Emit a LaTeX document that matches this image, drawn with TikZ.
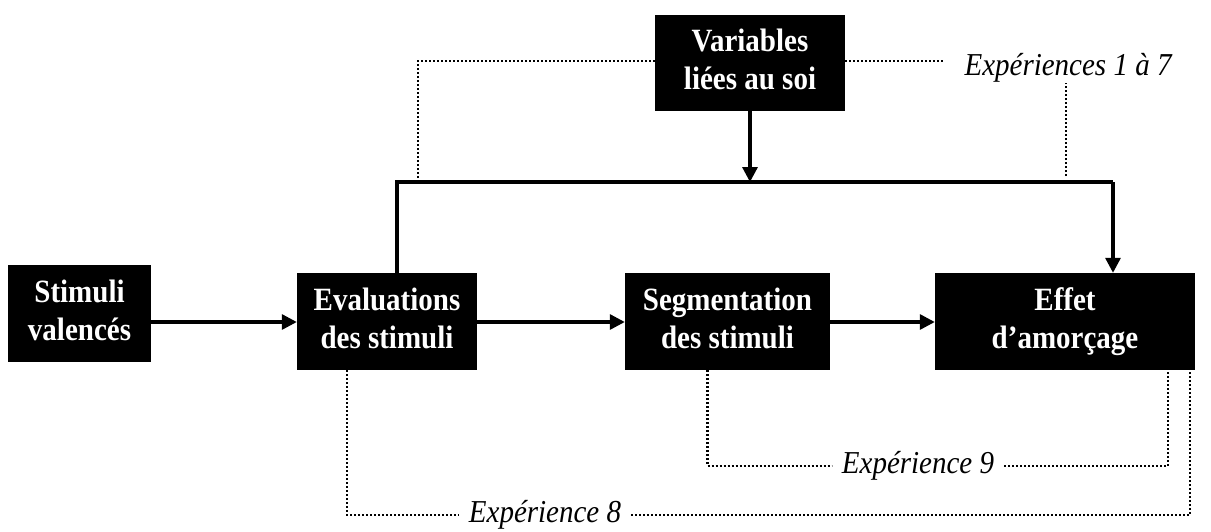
\documentclass[tikz,border=0pt]{standalone}
\usepackage{fontspec}
\usepackage{graphicx}
\setmainfont{Liberation Serif}
\usetikzlibrary{arrows.meta}
\newcommand{\boxtxt}[2]{\scalebox{1}[1.12]{\begin{tabular}{@{}c@{}}#1\\#2\end{tabular}}}
\newcommand{\lbltxt}[1]{\scalebox{1}[1.1]{#1}}
\tikzset{
  box/.style={draw=none, fill=black, text=white, font=\fontsize{29}{34}\selectfont\bfseries, align=center, inner sep=0pt},
  lbl/.style={font=\fontsize{29}{32}\selectfont\itshape, inner ysep=6pt, inner xsep=10pt},
  dotline/.style={line width=2.2pt, dash pattern=on 2pt off 2pt},
  arr/.style={line width=3.2pt, -{Triangle[length=15pt,width=15pt]}},
  bar/.style={line width=4.8pt}
}
\begin{document}
\begin{tikzpicture}[x=1pt,y=-1pt]
\useasboundingbox (0,0) rectangle (1211,531);
\node[box, minimum width=143pt, minimum height=97pt] (stim) at (79.5,313.5) {\boxtxt{Stimuli}{valencés}};
\node[box, minimum width=180pt, minimum height=97pt] (eval) at (387,321.5) {\boxtxt{Evaluations}{des stimuli}};
\node[box, minimum width=205pt, minimum height=97pt] (seg) at (727.5,321.5) {\boxtxt{Segmentation}{des stimuli}};
\node[box, minimum width=260pt, minimum height=97pt] (eff) at (1065,321.5) {\boxtxt{Effet}{d’amorçage}};
\node[box, minimum width=190pt, minimum height=96pt] (var) at (750,63) {\boxtxt{Variables}{liées au soi}};

\node[lbl] (e17) at (1068,68) {\lbltxt{Expériences 1 à 7}};
\node[lbl] (e8) at (545,515) {\lbltxt{Expérience 8}};
\node[lbl] (e9) at (918,466) {\lbltxt{Expérience 9}};

\coordinate (tl) at (397,182);
\coordinate (tr) at (1113,182);
\coordinate (dl) at (418,178);
\coordinate (dr) at (1066,176);

% main arrows
\draw[arr] (stim.east |- 0,322) -- (eval.west |- 0,322);
\draw[arr] (eval.east |- 0,322) -- (seg.west |- 0,322);
\draw[arr] (seg.east |- 0,322) -- (eff.west |- 0,322);
\draw[arr] (var.south) -- (var.south |- tl);
\draw[bar] ([xshift=10pt]eval.north) -- (tl) -- (tr);
\draw[arr] (tr) -- ([xshift=48pt]eff.north);

% dotted brackets
\draw[dotline] (dl) |- ([yshift=2pt]var.west);
\draw[dotline] ([yshift=2pt]var.east) -- ([xshift=-10pt,yshift=2pt]e17.west |- var.east);
\draw[dotline] (dr) -- ([yshift=6pt]dr |- e17.south);
\draw[dotline] ([xshift=-40pt]eval.south) |- (e8.west);
\draw[dotline] (e8.east) -| ([xshift=125pt]eff.south);
\draw[dotline] ([xshift=-20pt]seg.south) |- (e9.west);
\draw[dotline] (e9.east) -| ([xshift=103pt]eff.south);
\end{tikzpicture}
\end{document}
